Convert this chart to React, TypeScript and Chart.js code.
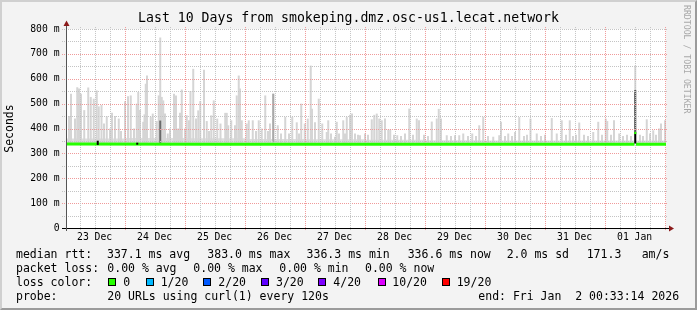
import React, { useEffect, useRef } from 'react';
import { Chart, registerables } from 'chart.js';

Chart.register(...registerables);

const TITLE = 'Last 10 Days from smokeping.dmz.osc-us1.lecat.network';
const WINDOW_HOURS = 240;
// hours from window start (23 Dec 00:33:14) to 24 Dec 00:00
const FIRST_MIDNIGHT_HOUR = 23.446;
const dayLabels = ['23 Dec', '24 Dec', '25 Dec', '26 Dec', '27 Dec', '28 Dec', '29 Dec', '30 Dec', '31 Dec', '01 Jan'];
const noonHours = dayLabels.map((_, i) => FIRST_MIDNIGHT_HOUR - 12 + 24 * i);
const Y_MAX = 800;
const Y_STEP = 100;

// smoke spikes (hours since window start, top of smoke in ms)
const SMOKE_BASE = 341;
const smokeHours = [
  1.2, 2.0, 3.6, 4.5, 5.2, 6.0, 7.3, 8.9, 9.9, 11.1, 12.3, 13.1, 14.2, 15.2, 16.3, 17.6, 18.4, 19.6, 21.1, 22.0,
  23.6, 24.8, 25.9, 27.2, 28.3, 28.9, 29.6, 30.9, 31.4, 31.9, 32.4, 33.9, 34.7, 36.3, 37.1, 37.7, 38.3, 38.9, 39.6, 40.7,
  41.6, 43.2, 44.0, 44.8, 45.6, 46.3, 47.6, 48.3, 49.2, 49.8, 50.9, 52.0, 52.9, 53.7, 55.2, 56.3, 57.2, 58.1, 59.1, 60.5,
  61.8, 63.7, 64.3, 64.9, 66.1, 67.6, 68.3, 69.1, 69.6, 70.3, 72.3, 73.1, 74.7, 76.0, 77.1, 78.3, 79.7, 80.8, 81.6, 82.9,
  84.7, 86.0, 87.7, 89.2, 90.5, 92.3, 93.2, 94.1, 95.5, 96.7, 97.9, 98.4, 99.6, 101.1, 102.5, 104.3, 104.9, 106.0, 107.6, 108.3,
  109.2, 110.9, 111.6, 112.3, 113.6, 114.4, 115.6, 116.8, 117.6, 119.6, 120.8, 122.3, 123.3, 124.3, 125.3, 126.3, 127.6, 128.9, 129.7, 131.2,
  132.5, 134.0, 135.6, 137.3, 138.8, 140.3, 141.2, 143.2, 144.8, 146.3, 148.3, 149.1, 150.0, 152.3, 154.0, 155.6, 157.3, 158.9, 160.8, 162.5,
  164.0, 165.3, 166.9, 168.8, 170.9, 173.3, 174.0, 175.6, 176.9, 178.4, 179.6, 181.3, 183.2, 184.4, 185.8, 188.3, 190.0, 191.6, 194.3, 196.3,
  198.3, 200.0, 201.5, 202.8, 204.0, 205.3, 207.2, 208.8, 210.9, 212.9, 214.4, 215.9, 216.5, 218.0, 219.2, 221.3, 222.8, 224.4, 226.0, 227.7,
  229.6, 230.8, 232.3, 233.6, 234.9, 236.0, 237.2, 238.0, 239.6,
];
const smokeTops = [
  450, 540, 440, 566, 561, 540, 474, 565, 527, 520, 553, 489, 495, 420, 449, 400, 463, 450, 440, 390,
  510, 530, 533, 400, 500, 547, 474, 427, 457, 580, 613, 447, 460, 430, 533, 766, 527, 513, 460, 380,
  400, 540, 533, 400, 463, 557, 400, 453, 433, 551, 640, 440, 473, 510, 636, 430, 390, 453, 513, 440,
  420, 463, 463, 413, 433, 413, 533, 613, 561, 433, 420, 433, 433, 390, 433, 400, 533, 390, 420, 540,
  413, 380, 447, 380, 447, 425, 380, 500, 420, 440, 653, 479, 425, 520, 420, 386, 433, 380, 367, 427,
  380, 433, 380, 447, 455, 460, 380, 375, 373, 380, 375, 437, 455, 460, 440, 433, 440, 396, 396, 375,
  373, 370, 380, 480, 375, 440, 433, 375, 370, 428, 440, 479, 440, 373, 370, 373, 373, 380, 370, 380,
  370, 413, 447, 370, 367, 373, 427, 370, 380, 370, 386, 446, 370, 375, 440, 380, 370, 375, 442, 380,
  433, 375, 433, 370, 375, 424, 375, 370, 386, 427, 375, 440, 430, 375, 433, 380, 370, 375, 370, 653,
  375, 370, 437, 380, 393, 375, 400, 420, 433,
];

// darker smoke cores
const darkHours = [37.7, 82.9, 227.7];
const darkLows = [342, 345, 388];
const darkHighs = [432, 540, 555];

// black marks on the median
const blackHours = [12.7, 28.5, 227.7];
const blackLows = [334, 335, 340];
const blackHighs = [351, 343, 388];

// dense lower smoke band (per day)
const floorHours = [0, 24, 48, 72, 96, 120, 144, 168, 192, 216, 240];
const floorTops = [360, 362, 361, 358, 357, 355, 353, 352, 352, 352, 352];

// median rtt
const medianHours = [0, 60, 120, 180, 227.4, 227.7, 228.0, 240];
const medianValues = [337.3, 337.2, 337.0, 336.8, 336.6, null, 336.6, 336.6];
const medianPeakHours = [227.7];
const medianPeakValues = [382];

const FONT = '"DejaVu Sans Mono", monospace';

const TOP_LABELS = new Set(['median rtt', 'median peak', 'black']);

const rrdPlugin = {
  id: 'rrdPlugin',
  beforeDraw(chart: any) {
    const { ctx, chartArea: a } = chart;
    ctx.save();
    ctx.fillStyle = '#ffffff';
    ctx.fillRect(a.left, a.top, a.right - a.left, a.bottom - a.top);
    ctx.restore();
    chart.$gridDone = false;
  },
  beforeDatasetDraw(chart: any, args: any) {
    const ds = chart.data.datasets[args.index];
    if (chart.$gridDone || !TOP_LABELS.has(ds.label)) return;
    chart.$gridDone = true;
    const { ctx, chartArea: a } = chart;
    const xs = chart.scales.x;
    const ys = chart.scales.y;
    ctx.save();
    ctx.lineWidth = 1;
    ctx.setLineDash([1, 1]);
    for (let v = 50; v <= Y_MAX; v += 50) {
      const py = Math.round(ys.getPixelForValue(v)) + 0.5;
      const major = v % Y_STEP === 0 && v !== Y_MAX;
      ctx.strokeStyle = major ? '#f09a9a' : '#c4c4c4';
      ctx.beginPath();
      ctx.moveTo(a.left - 4, py);
      ctx.lineTo(a.right + 1, py);
      ctx.stroke();
    }
    for (let h = FIRST_MIDNIGHT_HOUR - 18; h < WINDOW_HOURS; h += 6) {
      if (h < 0) continue;
      const px = Math.round(xs.getPixelForValue(h)) + 0.5;
      const d = (((h - FIRST_MIDNIGHT_HOUR) % 24) + 24) % 24;
      const major = d < 0.01 || d > 23.99;
      ctx.strokeStyle = major ? '#f09a9a' : '#c4c4c4';
      ctx.beginPath();
      ctx.moveTo(px, a.top - 2);
      ctx.lineTo(px, a.bottom + 3);
      ctx.stroke();
    }
    ctx.restore();
  },
  afterDatasetsDraw(chart: any) {
    const { ctx, chartArea: a } = chart;
    ctx.save();
    ctx.setLineDash([]);
    ctx.lineWidth = 1;
    ctx.strokeStyle = '#000000';
    ctx.beginPath();
    ctx.moveTo(a.left - 4, a.bottom + 0.5);
    ctx.lineTo(a.right + 4, a.bottom + 0.5);
    ctx.stroke();
    ctx.strokeStyle = '#555555';
    ctx.beginPath();
    ctx.moveTo(a.left + 0.5, a.bottom + 3);
    ctx.lineTo(a.left + 0.5, a.top - 4);
    ctx.stroke();
    ctx.fillStyle = '#8b1a1a';
    ctx.beginPath();
    ctx.moveTo(a.left + 0.5 - 3, a.top - 3);
    ctx.lineTo(a.left + 0.5 + 3, a.top - 3);
    ctx.lineTo(a.left + 0.5, a.top - 8.5);
    ctx.closePath();
    ctx.fill();
    ctx.beginPath();
    ctx.moveTo(a.right + 3, a.bottom + 0.5 - 3);
    ctx.lineTo(a.right + 3, a.bottom + 0.5 + 3);
    ctx.lineTo(a.right + 8, a.bottom + 0.5);
    ctx.closePath();
    ctx.fill();
    ctx.restore();
  },
};

const legendLines: [number, [number, string][]][] = [
  [254.3, [[16, 'median rtt:'], [107, '337.1 ms avg'], [207.3, '383.0 ms max'], [306.6, '336.3 ms min'], [407.7, '336.6 ms now'], [506.7, '2.0 ms sd'], [586.7, '171.3'], [641.7, 'am/s']]],
  [268.3, [[16, 'packet loss:'], [107.3, '0.00 % avg'], [193.3, '0.00 % max'], [279.3, '0.00 % min'], [365, '0.00 % now']]],
  [282.3, [[16, 'loss color:'], [123.3, '0'], [160.7, '1/20'], [218.3, '2/20'], [276, '3/20'], [333.3, '4/20'], [392.3, '10/20'], [456.7, '19/20']]],
  [296, [[16, 'probe:'], [107.3, '20 URLs using curl(1) every 120s'], [478.3, 'end: Fri Jan  2 00:33:14 2026']]],
];
const lossBoxes: [number, string][] = [
  [108, '#26ff00'], [146, '#00b8ff'], [203, '#0059ff'], [261, '#5e00ff'], [318, '#7e00ff'], [378, '#dd00ff'], [442, '#ff0000'],
];

export default function App() {
  const ref = useRef<HTMLCanvasElement | null>(null);

  useEffect(() => {
    if (!ref.current) return;
    const chart = new Chart(ref.current, {
      type: 'line',
      data: {
        datasets: [
          {
            type: 'line',
            label: 'floor',
            data: floorHours.map((h, i) => ({ x: h, y: floorTops[i] })),
            stepped: true,
            fill: { value: 337 },
            backgroundColor: '#dedede',
            borderWidth: 0,
            pointRadius: 0,
            order: 5,
          },
          {
            type: 'bar',
            label: 'smoke',
            data: smokeHours.map((h, i) => ({ x: h, y: [SMOKE_BASE, smokeTops[i]] })),
            backgroundColor: '#d5d5d5',
            borderWidth: 0,
            barThickness: 2,
            inflateAmount: 0,
            grouped: false,
            order: 4,
          },
          {
            type: 'bar',
            label: 'dark',
            data: darkHours.map((h, i) => ({ x: h, y: [darkLows[i], darkHighs[i]] })),
            backgroundColor: ['#6a6a6a', '#a8a8a8', '#505050'],
            borderWidth: 0,
            barThickness: 2,
            inflateAmount: 0,
            grouped: false,
            order: 3,
          },
          {
            type: 'line',
            label: 'median rtt',
            data: medianHours.map((h, i) => ({ x: h, y: medianValues[i] })),
            borderColor: '#26ff00',
            borderWidth: 3,
            pointRadius: 0,
            spanGaps: false,
            tension: 0,
            fill: false,
            order: 2,
          },
          {
            type: 'bar',
            label: 'black',
            data: blackHours.map((h, i) => ({ x: h, y: [blackLows[i], blackHighs[i]] })),
            backgroundColor: '#000000',
            borderWidth: 0,
            barThickness: 2,
            inflateAmount: 0,
            grouped: false,
            order: 1,
          },
          {
            type: 'line',
            label: 'median peak',
            data: medianPeakHours.map((h, i) => ({ x: h, y: medianPeakValues[i] })),
            showLine: false,
            pointStyle: 'rect',
            pointRadius: 1.5,
            pointBackgroundColor: '#26ff00',
            pointBorderWidth: 0,
            order: 0,
          },
        ],
      },
      options: {
        responsive: false,
        animation: false,
        devicePixelRatio: 1,
        events: [],
        layout: { padding: { top: 0, left: 0, right: 0, bottom: 0 } },
        plugins: {
          legend: { display: false },
          tooltip: { enabled: false },
          title: {
            display: true,
            text: TITLE,
            color: '#000000',
            font: { family: FONT, size: 13.2, weight: 'normal' },
            padding: { top: 11, bottom: 2.2 },
          },
        },
        scales: {
          x: {
            type: 'linear',
            min: 0,
            max: WINDOW_HOURS,
            offset: false,
            grid: { display: false, drawTicks: false, offset: false },
            border: { display: false },
            afterBuildTicks: (s: any) => {
              s.ticks = noonHours.map((v) => ({ value: v }));
            },
            afterFit: (s: any) => {
              s.height = 82;
              s.paddingLeft = 0;
              s.paddingRight = 31;
            },
            ticks: {
              autoSkip: false,
              maxRotation: 0,
              minRotation: 0,
              padding: 4,
              color: '#000000',
              font: { family: FONT, size: 9.75 },
              callback: (_v: any, i: number) => dayLabels[i] ?? '',
            },
          },
          y: {
            type: 'linear',
            min: 0,
            max: Y_MAX,
            grid: { display: false, drawTicks: false },
            border: { display: false },
            afterFit: (s: any) => {
              s.width = 66;
              s.paddingTop = 0;
              s.paddingBottom = 0;
            },
            ticks: {
              stepSize: Y_STEP,
              padding: 6.5,
              color: '#000000',
              font: { family: FONT, size: 9.75 },
              callback: (v: any) => (v === 0 ? '0' : `${v} m`),
            },
            title: {
              display: true,
              text: 'Seconds',
              color: '#000000',
              font: { family: FONT, size: 11.5 },
              padding: { top: 3, bottom: 0 },
            },
          },
        },
      },
      plugins: [rrdPlugin],
    } as any);
    return () => chart.destroy();
  }, []);

  return (
    <div
      style={{
        position: 'fixed',
        left: 0,
        top: 0,
        width: 697,
        height: 310,
        background: '#f3f3f3',
        overflow: 'hidden',
        fontFamily: FONT,
        color: '#000',
      }}
    >
      <canvas ref={ref} width={697} height={310} style={{ position: 'absolute', left: 0, top: 0, width: 697, height: 310 }} />
      {legendLines.map(([cy, frags], li) =>
        frags.map(([x, t], fi) => (
          <span
            key={`${li}-${fi}`}
            style={{
              position: 'absolute',
              left: x,
              top: cy - 7,
              height: 14,
              lineHeight: '14px',
              fontSize: 11.5,
              whiteSpace: 'pre',
            }}
          >
            {t}
          </span>
        ))
      )}
      {lossBoxes.map(([x, c], i) => (
        <div
          key={`b${i}`}
          style={{
            position: 'absolute',
            left: x,
            top: 278,
            width: 8,
            height: 8,
            boxSizing: 'border-box',
            border: '1px solid #000',
            background: c,
          }}
        />
      ))}
      <div
        style={{
          position: 'absolute',
          left: 683,
          top: 5,
          writingMode: 'vertical-rl',
          fontSize: 8.2,
          lineHeight: '8px',
          color: '#a8a8a8',
          whiteSpace: 'pre',
        }}
      >
        RRDTOOL / TOBI OETIKER
      </div>
      <div
        style={{
          position: 'absolute',
          left: 0,
          top: 0,
          width: 697,
          height: 310,
          boxSizing: 'border-box',
          borderTop: '2px solid #d0d0d0',
          borderLeft: '2px solid #d0d0d0',
          borderRight: '2px solid #9b9b9b',
          borderBottom: '2px solid #9b9b9b',
          pointerEvents: 'none',
        }}
      />
    </div>
  );
}
